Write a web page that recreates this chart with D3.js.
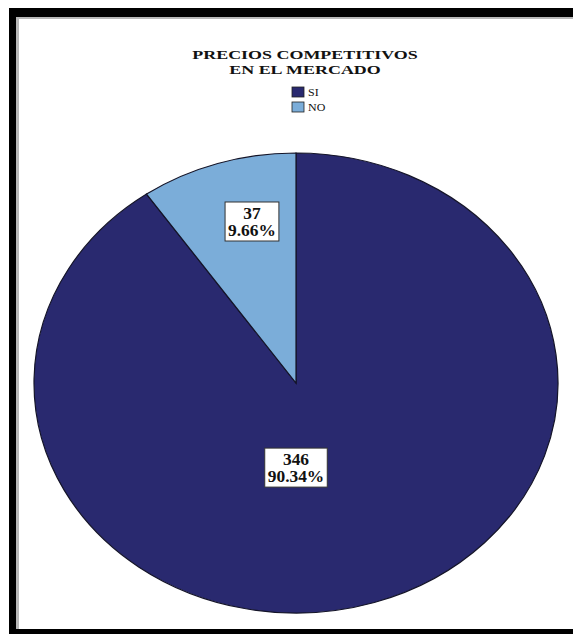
<!DOCTYPE html>
<html>
<head>
<meta charset="utf-8">
<script src="https://cdn.jsdelivr.net/npm/d3@7/dist/d3.min.js"></script>
<style>
  html, body { margin: 0; padding: 0; background: #ffffff; }
  svg { display: block; }
</style>
</head>
<body>
<svg id="chart" width="573" height="634"></svg>
<script>
// Survey answers: "competitive prices in the market"
const categories = ["SI", "NO"];
const counts = [346, 37];
const percentLabels = ["90.34%", "9.66%"];
const colors = ["#29296f", "#7badd9"];
const titleLines = ["PRECIOS COMPETITIVOS", "EN EL MERCADO"];

const W = 573, H = 634;
const svg = d3.select("#chart");

// Frame: heavy black border on the top, left and bottom, with a grey inner rule
svg.append("rect").attr("x", 9).attr("y", 8).attr("width", W).attr("height", H).attr("fill", "#000");
svg.append("rect").attr("x", 16).attr("y", 17).attr("width", W).attr("height", 612).attr("fill", "#b8b8b8");
svg.append("rect").attr("x", 19).attr("y", 19).attr("width", W).attr("height", 610).attr("fill", "#fff");

// Everything in the plot is drawn slightly wide (horizontal stretch)
const sx = 1.14;
const serif = "'Liberation Serif', 'Times New Roman', serif";

// Title, one text per line
titleLines.forEach((t, i) => {
  svg.append("text")
    .attr("font-family", serif)
    .attr("font-weight", "bold")
    .attr("font-size", 13.5)
    .attr("fill", "#111")
    .attr("text-anchor", "middle")
    .attr("transform", `translate(305,${59 + i * 15}) scale(1.33,1)`)
    .text(t);
});

// Legend
const legend = svg.append("g").attr("transform", "translate(292,87)");
categories.forEach((c, i) => {
  const g = legend.append("g").attr("transform", `translate(0,${i * 15})`);
  g.append("rect").attr("width", 12).attr("height", 10)
    .attr("fill", colors[i]).attr("stroke", "#222").attr("stroke-width", 0.8);
  g.append("text")
    .attr("font-family", serif)
    .attr("font-size", 10.5).attr("fill", "#111")
    .attr("transform", `translate(16,9) scale(${sx},1)`)
    .text(c);
});

// Pie (elliptical): drawn on a circle, then stretched
const cx = 296, cy = 383, rx = 262, ry = 230;
const R = 100;
const pie = d3.pie().sort(null).value(d => d)(counts);
const arc = d3.arc().innerRadius(0).outerRadius(R);

const pieG = svg.append("g")
  .attr("transform", `translate(${cx},${cy}) scale(${rx / R},${ry / R})`);
pieG.selectAll("path")
  .data(pie)
  .join("path")
  .attr("d", arc)
  .attr("fill", (d, i) => colors[i])
  .attr("stroke", "#141428")
  .attr("stroke-width", 1.2)
  .attr("vector-effect", "non-scaling-stroke");

// Value labels: count and percentage inside a white box
const labelAnchor = {
  SI: [0.0, 0.37],
  NO: [-0.168, -0.70]
};
pie.forEach((d, i) => {
  const a = labelAnchor[categories[i]];
  const lx = cx + a[0] * rx, ly = cy + a[1] * ry;
  const g = svg.append("g").attr("transform", `translate(${lx},${ly})`);
  const box = g.append("rect").attr("fill", "#fff").attr("stroke", "#333").attr("stroke-width", 1);
  const lines = [String(d.data), percentLabels[i]];
  let maxW = 0;
  lines.forEach((s, j) => {
    const t = g.append("text")
      .attr("font-family", serif)
      .attr("font-weight", "bold")
      .attr("font-size", 15)
      .attr("fill", "#111")
      .attr("text-anchor", "middle")
      .attr("transform", `translate(0,${j === 0 ? -3 : 14}) scale(1.16,1.06)`)
      .text(s);
    maxW = Math.max(maxW, t.node().getBBox().width * 1.16);
  });
  const bw = maxW + 6, bh = 39;
  box.attr("x", -bw / 2).attr("y", -20).attr("width", bw).attr("height", bh);
});
</script>
</body>
</html>
